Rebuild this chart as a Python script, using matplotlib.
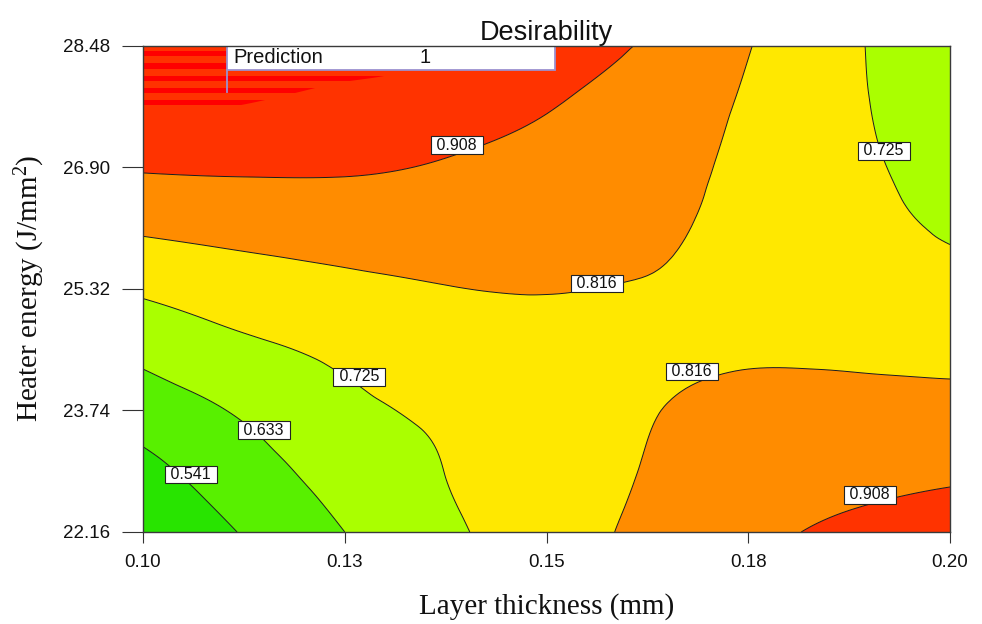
import numpy as np
import matplotlib
matplotlib.use("Agg")
import matplotlib.pyplot as plt
import matplotlib.tri as mtri
from matplotlib.patches import Rectangle

# ---------------- data ----------------
LAYER_THICKNESS = [0.100, 0.1125, 0.125, 0.1375, 0.150, 0.1625, 0.175, 0.1875, 0.200]
HEATER_ENERGY = [22.16, 22.95, 23.74, 24.53, 25.32, 26.11, 26.90, 27.69, 28.48]
# desirability surface, one row per heater-energy value (bottom -> top)
D_2216 = [0.460, 0.547, 0.633, 0.709, 0.774, 0.835, 0.885, 0.925, 0.948]
D_2295 = [0.515, 0.595, 0.668, 0.726, 0.776, 0.820, 0.858, 0.880, 0.894]
D_2374 = [0.583, 0.644, 0.703, 0.743, 0.780, 0.812, 0.835, 0.842, 0.841]
D_2453 = [0.657, 0.707, 0.744, 0.784, 0.800, 0.803, 0.808, 0.800, 0.794]
D_2532 = [0.739, 0.773, 0.796, 0.814, 0.818, 0.812, 0.795, 0.765, 0.753]
D_2611 = [0.828, 0.844, 0.855, 0.857, 0.849, 0.832, 0.791, 0.754, 0.715]
D_2690 = [0.917, 0.921, 0.918, 0.901, 0.880, 0.852, 0.795, 0.745, 0.685]
D_2769 = [1.006, 0.998, 0.978, 0.954, 0.912, 0.874, 0.804, 0.738, 0.670]
D_2848 = [1.060, 1.050, 1.030, 1.012, 0.944, 0.902, 0.820, 0.737, 0.653]
LEVELS = [0.541, 0.633, 0.725, 0.816, 0.908]
X_TICKS = [0.100, 0.125, 0.150, 0.175, 0.200]
X_TICK_LABELS = ["0.10", "0.13", "0.15", "0.18", "0.20"]
Y_TICKS = [22.16, 23.74, 25.32, 26.90, 28.48]
PREDICTION_LABEL = "Prediction"
PREDICTION_VALUE = 1

# ---------------- styles / layout ----------------
BAND_COLORS = ["#28e400", "#58f000", "#aaff00", "#ffe800", "#ff8c00", "#ff3300"]
STRIPE_COLOR = "#ff0000"
LINE_COLOR = "#1a1a1a"
SANS = ["Liberation Sans", "DejaVu Sans"]
SERIF = ["Liberation Serif", "DejaVu Serif"]
plt.rcParams["mathtext.fontset"] = "custom"
plt.rcParams["mathtext.rm"] = "Liberation Serif"
plt.rcParams["mathtext.it"] = "Liberation Serif:italic"

# contour label anchor points (level index, x, y)
LABEL_SPOTS = [
    (4, 0.13887, 27.187),
    (3, 0.15622, 25.391),
    (2, 0.19180, 27.112),
    (2, 0.12677, 24.177),
    (1, 0.11497, 23.485),
    (0, 0.10595, 22.907),
    (3, 0.16799, 24.245),
    (4, 0.19009, 22.643),
]

fig = plt.figure(figsize=(9.82, 6.24), dpi=100)
W, H = 982, 624
ax = fig.add_axes([143 / W, (H - 532) / H, (950 - 143) / W, (532 - 45.5) / H])

x = np.array(LAYER_THICKNESS)
y = np.array(HEATER_ENERGY)
z = np.array([D_2216, D_2295, D_2374, D_2453, D_2532, D_2611, D_2690, D_2769, D_2848])

X, Y = np.meshgrid(x, y)
xmin, xmax, ymin, ymax = x.min(), x.max(), y.min(), y.max()
nx, ny = len(x), len(y)
tris = []
for j in range(ny - 1):
    for i in range(nx - 1):
        a = j * nx + i
        b, c = a + 1, a + nx
        d = c + 1
        tris += [[a, b, d], [a, d, c]]
tris = np.array(tris)
u = (X.ravel() - xmin) / (xmax - xmin)
v = (Y.ravel() - ymin) / (ymax - ymin)
tri_n = mtri.Triangulation(u, v, tris)
interp = mtri.CubicTriInterpolator(tri_n, z.ravel(), kind="min_E")
refiner = mtri.UniformTriRefiner(tri_n)
tri_r, z_r = refiner.refine_field(z.ravel(), triinterpolator=interp, subdiv=4)
tri_d = mtri.Triangulation(xmin + tri_r.x * (xmax - xmin),
                           ymin + tri_r.y * (ymax - ymin), tri_r.triangles)

bounds = [-5.0] + LEVELS + [5.0]
ax.tricontourf(tri_d, z_r, levels=bounds, colors=BAND_COLORS, antialiased=True)

# plateau of full desirability, drawn as horizontal stripes clipped to the region
cs_p = ax.tricontourf(tri_d, z_r, levels=[1.0, 5.0], colors="none")
plateau_paths = [p for p in cs_p.get_paths() if len(p.vertices)]
step = 12.3 / 486.5 * (ymax - ymin)
bar = 5.2 / 486.5 * (ymax - ymin)
for p in plateau_paths:
    y_lo = p.vertices[:, 1].min()
    yy = ymax - 0.45 * step
    while yy > y_lo - step:
        span = ax.axhspan(yy - bar, yy, color=STRIPE_COLOR, lw=0, zorder=2)
        span.set_clip_path(p, ax.transData)
        yy -= step

ax.tricontour(tri_d, z_r, levels=LEVELS, colors=LINE_COLOR, linewidths=0.7, zorder=3)

for idx, lx, ly in LABEL_SPOTS:
    ax.text(lx, ly, f" {LEVELS[idx]:.3f} ", ha="center", va="center",
            fontsize=11.5, family=SANS, color="#111111", zorder=5,
            bbox=dict(boxstyle="square,pad=0.08", facecolor="white",
                      edgecolor="#222222", linewidth=0.8))

# prediction flag
PX0, PX1, PY0, PY1 = 0.11041, 0.15105, 28.162, 28.48
ax.add_patch(Rectangle((PX0, PY0), PX1 - PX0, PY1 - PY0, facecolor="white",
                       edgecolor="#9b91d0", linewidth=1.3, zorder=6))
ax.plot([PX0, PX0], [PY0, 27.876], color="#9b91d0", linewidth=1.3, zorder=6)
ax.text(0.11115, 28.321, PREDICTION_LABEL, ha="left", va="center",
        fontsize=14.5, family=SANS, color="#111111", zorder=7)
ax.text(0.13494, 28.321, f"{PREDICTION_VALUE}", ha="center", va="center",
        fontsize=14.5, family=SANS, color="#111111", zorder=7)

ax.set_xlim(xmin, xmax)
ax.set_ylim(ymin, ymax)
ax.set_xticks(X_TICKS)
ax.set_xticklabels(X_TICK_LABELS)
ax.set_yticks(Y_TICKS)
ax.set_yticklabels([f"{t:.2f}" for t in Y_TICKS])
for lab in ax.get_xticklabels() + ax.get_yticklabels():
    lab.set_family(SANS)
    lab.set_fontsize(13.5)
    lab.set_color("#111111")
ax.tick_params(axis="x", length=8, width=0.8, pad=8, colors="#333333", labelcolor="#111111")
ax.tick_params(axis="y", length=15, width=0.8, pad=8.5, colors="#333333", labelcolor="#111111")
for s in ax.spines.values():
    s.set_color("#3a3a3a")
    s.set_linewidth(1.0)
    s.set_zorder(8)

ax.set_title("Desirability", fontsize=19.5, family=SANS, pad=4.3, color="#111111")
ax.set_xlabel("Layer thickness (mm)", fontsize=21, family=SERIF, color="#111111")
ax.set_ylabel("Heater energy (J/mm$^{2}$)", fontsize=21, family=SERIF, color="#111111")
ax.xaxis.set_label_coords(0.5, -0.125)
ax.yaxis.set_label_coords(-0.119, 0.5)

fig.savefig("out.png", dpi=100)
